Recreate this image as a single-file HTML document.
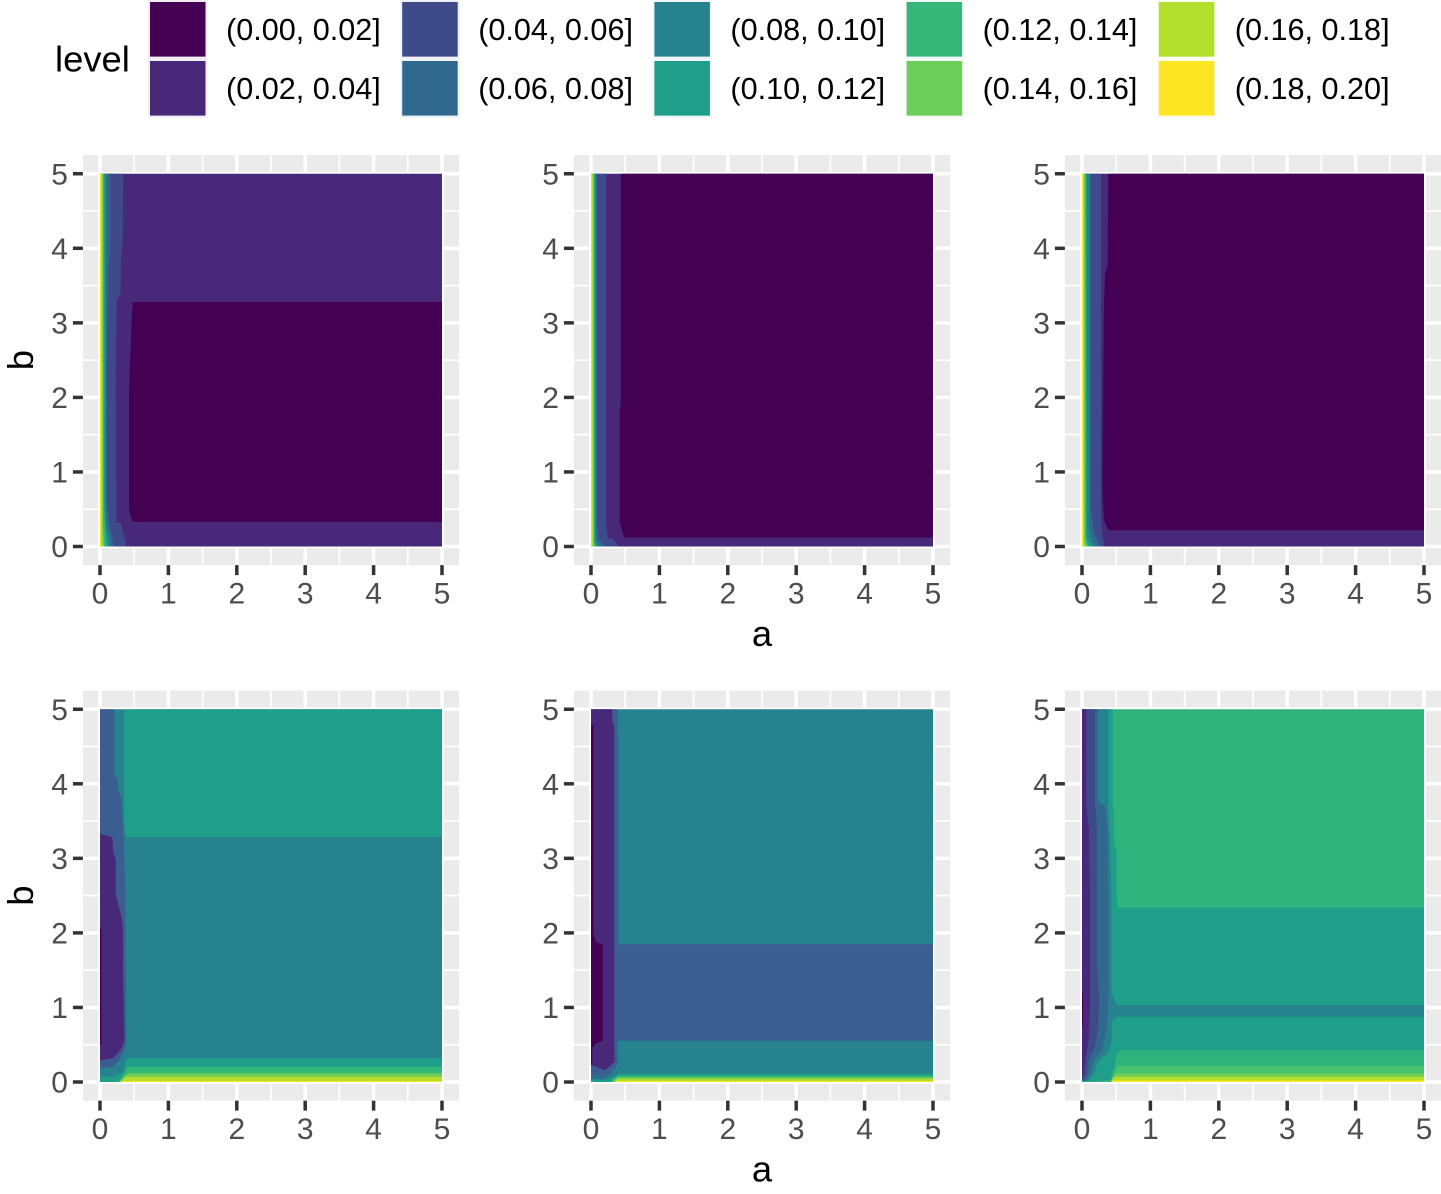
<!DOCTYPE html>
<html lang="en">
<head>
<meta charset="utf-8">
<title>Faceted contour plots of level over a and b</title>
<style>
html,body{margin:0;padding:0;background:#fff;}
svg{display:block;font-family:"Liberation Sans",Arial,sans-serif;}
</style>
</head>
<body>
<svg id="chart" xmlns="http://www.w3.org/2000/svg" width="1441" height="1194" viewBox="0 0 1441 1194">
  <g id="legend"></g>
  <g id="panels"></g>
</svg>
<script>
// Legend categories
const levelLabels = ["(0.00, 0.02]","(0.02, 0.04]","(0.04, 0.06]","(0.06, 0.08]","(0.08, 0.10]","(0.10, 0.12]","(0.12, 0.14]","(0.14, 0.16]","(0.16, 0.18]","(0.18, 0.20]"];
const levelColors = ["#440154","#482878","#3E4A89","#31688E","#26828E","#1F9E89","#35B779","#6DCD59","#B4DE2C","#FDE725","#4AC16D","#3B5E90","#2EB37C"];
const legendTitle = "level";

// Axis ticks (data units)
const xTicks = [0,1,2,3,4,5];
const yTicks = [0,1,2,3,4,5];
const xMinorTicks = [0.5,1.5,2.5,3.5,4.5];
const yMinorTicks = [0.5,1.5,2.5,3.5,4.5];
const xTitle = "a";
const yTitle = "b";

// Filled contour regions: [level index, a,b, a,b, ...] in data units, painted in order
const panelTopLeft = [
  [1, 0,0, 5,0, 5,5, 0,5],
  [0, 5,3.28, .478,3.28, .463,3.04, .424,2.1, .424,.49, .478,.33, 5,.33],
  [2, .34,5, .332,4.11, .307,3.84, .3,3.4, .244,3.3, .23,2.3, .24,.33, .31,.3, .39,0, 0,0, 0,5],
  [3, .146,5, .146,3.95, .12,3.7, .12,3.4, .1,2.5, .1,.6, .12,.4, .16,.2, .2,0, 0,0, 0,5],
  [4, .09,5, .085,.6, .1,.3, .16,0, 0,0, 0,5],
  [5, .075,5, .07,.5, .08,.3, .12,0, 0,0, 0,5],
  [6, .06,5, .06,.5, .07,.3, .09,0, 0,0, 0,5],
  [7, .045,5, .045,.3, .06,0, 0,0, 0,5],
  [8, .03,5, .03,.1, .04,0, 0,0, 0,5],
  [9, .012,5, .012,0, 0,0, 0,5]
];
const panelTopMiddle = [
  [1, 0,0, 5,0, 5,5, 0,5],
  [0, 5,5, .434,5, .434,1.9, .42,1.85, .42,.32, .44,.27, .482,.123, 5,.123],
  [2, .224,5, .224,.26, .25,.11, .33,.1, .4,0, 0,0, 0,5],
  [3, .088,5, .088,.3, .11,.1, .2,0, 0,0, 0,5],
  [4, .074,5, .074,.2, .085,.05, .13,0, 0,0, 0,5],
  [5, .06,5, .06,.1, .09,0, 0,0, 0,5],
  [6, .05,5, .05,.06, .07,0, 0,0, 0,5],
  [7, .04,5, .04,.04, .05,0, 0,0, 0,5],
  [8, .028,5, .028,0, 0,0, 0,5],
  [9, .008,5, .008,0, 0,0, 0,5]
];
const panelTopRight = [
  [1, 0,0, 5,0, 5,5, 0,5],
  [0, 5,5, .385,5, .375,3.75, .336,3.67, .32,3.17, .3,1.16, .3,.72, .32,.36, .385,.22, 5,.22],
  [2, .278,5, .278,.5, .29,.25, .325,0, 0,0, 0,5],
  [3, .131,5, .131,.5, .17,.2, .27,0, 0,0, 0,5],
  [4, .105,5, .105,.3, .14,.1, .2,0, 0,0, 0,5],
  [5, .073,5, .073,.2, .1,.07, .15,0, 0,0, 0,5],
  [6, .058,5, .058,.1, .1,0, 0,0, 0,5],
  [7, .045,5, .045,.1, .07,0, 0,0, 0,5],
  [8, .03,5, .03,.04, .04,0, 0,0, 0,5],
  [9, .015,5, .015,0, 0,0, 0,5]
];
const panelBottomLeft = [
  [4, 0,0, 5,0, 5,5, 0,5],
  [5, 5,5, .355,5, .355,3.43, .39,3.285, 5,3.285],
  [11, 0,5, .209,5, .209,4.12, .259,4.05, .268,3.89, .317,3.83, .329,3.52, .351,3.25, .365,2.6, .385,1.0, .385,.55, .37,.45, .29,.3, .18,.2, 0,.19],
  [1, 0,3.33, .18,3.285, .194,3.09, .23,2.98, .23,2.51, .307,2.24, .335,2.07, .335,1.5, .35,1.0, .355,.54, .3,.43, .194,.32, 0,.29],
  [0, 0,2.08, .022,2.08, .022,.5, 0,.5],
  [5, 5,.32, .4,.32, .37,.28, .36,.2, .34,.138, .19,.07, 0,.07, 0,0, 5,0],
  [6, 5,.205, .41,.205, .36,.13, .3,.03, .25,0, 5,0],
  [7, 5,.117, .41,.117, .34,.06, .28,0, 5,0],
  [8, 5,.07, .38,.07, .33,.03, .3,0, 5,0],
  [9, 5,.012, .33,.012, .33,0, 5,0]
];
const panelBottomMiddle = [
  [4, 0,0, 5,0, 5,5, 0,5],
  [11, 0,5, .389,5, .389,4.7, .4,4.6, .4,1.849, 5,1.849, 5,.554, .39,.554, .39,.25, .36,.18, .25,.11, 0,.09],
  [1, 0,5, .311,5, .311,4.85, .34,4.75, .34,.4, .345,.27, .205,.16, 0,.23],
  [0, 0,4.79, .034,4.79, .034,2.0, .07,1.87, .17,1.849, .17,.555, .07,.52, .02,.46, .02,.23, 0,.23],
  [3, 0,.09, .2,.1, .33,.17, .3,.1, .15,.04, 0,.06],
  [5, 5,.11, .4,.11, .32,.06, .2,.02, 0,.03, 0,0, 5,0],
  [6, 5,.085, .4,.085, .33,.05, .28,0, 5,0],
  [7, 5,.065, .4,.065, .35,.03, .32,0, 5,0],
  [8, 5,.04, .38,.04, .34,0, 5,0],
  [9, 5,.012, .36,.012, .35,0, 5,0]
];
const panelBottomRight = [
  [12, 0,0, 5,0, 5,5, 0,5],
  [5, 0,5, .449,5, .449,3.7, .468,3.65, .468,3.18, .507,3.11, .507,2.45, .53,2.337, 5,2.337, 5,.43, .56,.43, .5,.35, .47,.2, .42,.03, 0,0],
  [4, 0,5, .385,5, .385,3.7, .39,3.6, .41,3.15, .43,2.6, .434,1.2, .5,1.033, 5,1.033, 5,.876, .51,.876, .434,.8, .434,.55, .385,.4, .234,.27, .17,.1, .1,.02, 0,.01],
  [3, 0,5, .238,5, .238,3.75, .33,3.72, .37,3.45, .38,3.0, .39,2.07, .39,1.2, .36,.7, .29,.42, .17,.27, .12,.1, .06,.02, 0,.02],
  [2, 0,5, .19,5, .19,3.7, .215,3.5, .215,1.6, .25,1.1, .235,.7, .18,.45, .1,.3, .07,.1, .03,.03, 0,.03],
  [1, 0,5, .063,5, .063,3.7, .1,3.4, .117,2.5, .117,1, .1,.6, .05,.3, .02,.1, 0,.05],
  [0, 0,1.2, .015,1.2, .015,.75, 0,.75],
  [10, 5,.215, .52,.215, .47,.12, .44,.03, .42,0, 5,0],
  [7, 5,.117, .5,.117, .45,.06, .42,0, 5,0],
  [8, 5,.07, .48,.07, .44,.03, .42,0, 5,0],
  [9, 5,.02, .46,.02, .43,0, 5,0]
];
const panelData = [panelTopLeft, panelTopMiddle, panelTopRight, panelBottomLeft, panelBottomMiddle, panelBottomRight];
const panelNames = ["top-left","top-middle","top-right","bottom-left","bottom-middle","bottom-right"];

// Layout
const NS = "http://www.w3.org/2000/svg";
const columnOrigins = [100, 591, 1082];
const rowOrigins = [546.5, 1082];
const unitX = 68.4, unitY = 74.55;
const domainMin = 0, domainMax = 5, expand = 0.25;

function makeScaleX(col){ return a => columnOrigins[col] + (a - domainMin) * unitX; }
function makeScaleY(row){ return b => rowOrigins[row] - (b - domainMin) * unitY; }

function svgEl(tag, parent, attrs){
  const el = document.createElementNS(NS, tag);
  for (const k in attrs) el.setAttribute(k, attrs[k]);
  parent.appendChild(el);
  return el;
}

function drawLegend(){
  const g = document.getElementById("legend");
  const title = svgEl("text", g, {x:55, y:71.5, "font-size":36.4, fill:"#000"});
  
  
  title.textContent = legendTitle;
  levelLabels.forEach((label, i) => {
    const col = Math.floor(i / 2), row = i % 2;
    const kx = 150 + col * 252.2, ky = 2 + row * 59;
    const entry = svgEl("g", g, {});
    
    
    const back = svgEl("rect", entry, {x:kx-2, y:ky-2, width:59.5, height:59, fill:levelColors[i], "fill-opacity":0.07});
    
    
    const key = svgEl("rect", entry, {x:kx, y:ky, width:55.5, height:54.6, fill:levelColors[i]});
    
    
    const txt = svgEl("text", entry, {x:kx+76, y:40+row*59, "font-size":30.6, fill:"#000"});
    
    
    txt.textContent = label;
  });
}

function drawPanel(index){
  const col = index % 3, row = Math.floor(index / 3);
  const sx = makeScaleX(col), sy = makeScaleY(row);
  const root = document.getElementById("panels");
  const g = svgEl("g", root, {});
  
  

  const left = sx(domainMin - expand), right = sx(domainMax + expand);
  const top = sy(domainMax + expand), bottom = sy(domainMin - expand);

  const bg = svgEl("rect", g, {x:left, y:top, width:right-left, height:bottom-top, fill:"#EBEBEB"});
  
  

  xMinorTicks.forEach(v => {
    const l = svgEl("line", g, {x1:sx(v), x2:sx(v), y1:top, y2:bottom, stroke:"#fff", "stroke-width":1.75});
    
    
  });
  yMinorTicks.forEach(v => {
    const l = svgEl("line", g, {x1:left, x2:right, y1:sy(v), y2:sy(v), stroke:"#fff", "stroke-width":1.75});
    
    
  });
  xTicks.forEach(v => {
    const l = svgEl("line", g, {x1:sx(v), x2:sx(v), y1:top, y2:bottom, stroke:"#fff", "stroke-width":3.5});
    
    
  });
  yTicks.forEach(v => {
    const l = svgEl("line", g, {x1:left, x2:right, y1:sy(v), y2:sy(v), stroke:"#fff", "stroke-width":3.5});
    
    
  });

  panelData[index].forEach(band => {
    const pts = [];
    for (let i = 1; i < band.length; i += 2) {
      pts.push(sx(band[i]).toFixed(2) + "," + sy(band[i+1]).toFixed(2));
    }
    const poly = svgEl("polygon", g, {points:pts.join(" "), fill:levelColors[band[0]]});
    
    
  });

  xTicks.forEach(v => {
    const t = svgEl("line", g, {x1:sx(v), x2:sx(v), y1:bottom, y2:bottom+10, stroke:"#333", "stroke-width":3.5});
    
    
    const lab = svgEl("text", g, {x:sx(v), y:bottom+38.5, "font-size":30, fill:"#4D4D4D", "text-anchor":"middle"});
    
    
    lab.textContent = String(v);
  });
  yTicks.forEach(v => {
    const t = svgEl("line", g, {x1:left-10, x2:left, y1:sy(v), y2:sy(v), stroke:"#333", "stroke-width":3.5});
    
    
    const lab = svgEl("text", g, {x:left-15, y:sy(v)+10.5, "font-size":30, fill:"#4D4D4D", "text-anchor":"end"});
    
    
    lab.textContent = String(v);
  });
}

function drawAxisTitles(){
  const root = document.getElementById("panels");
  rowOrigins.forEach((origin, row) => {
    const sy = makeScaleY(row);
    const xt = svgEl("text", root, {x:762, y:origin+99.5, "font-size":36.4, fill:"#000", "text-anchor":"middle"});
    
    
    xt.textContent = xTitle;
    const cy = sy((domainMin + domainMax) / 2);
    const yt = svgEl("text", root, {x:0, y:0, "font-size":36.4, fill:"#000", "text-anchor":"middle", transform:"translate(33 " + cy + ") rotate(-90)"});
    
    
    yt.textContent = yTitle;
  });
}

drawLegend();
panelData.forEach((_, i) => drawPanel(i));
drawAxisTitles();
</script>
</body>
</html>
